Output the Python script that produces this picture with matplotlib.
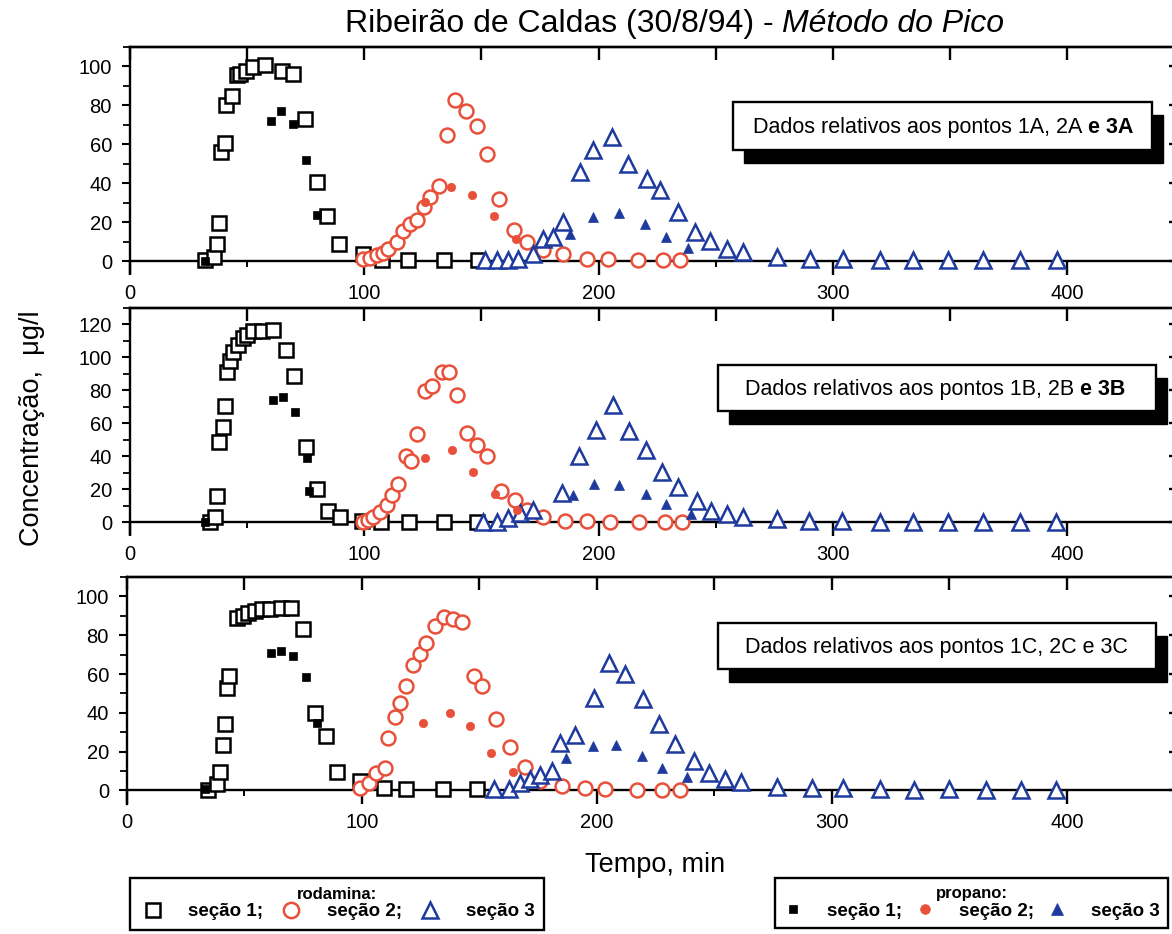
import matplotlib
matplotlib.use("Agg")
import matplotlib.pyplot as plt
from matplotlib.ticker import MultipleLocator
from matplotlib.lines import Line2D
from matplotlib.patches import Rectangle
from matplotlib.text import Annotation

plt.rcParams["font.family"] = ["Liberation Sans", "DejaVu Sans"]

# ---------------- data: time (min) and concentration (ug/l) ----------------
# points 1A, 2A, 3A
a_rod1_t = [32, 36, 37, 38, 39, 40.5, 41, 43.5, 45.5, 47, 49.5, 52.5, 57.5, 65, 69.5,
            74.5, 80, 84, 89, 99.5, 107.5, 118.5, 134, 148.5]
a_rod1_c = [0.5, 2, 9, 19.5, 56, 60.5, 80, 85, 95.5, 96, 97.5, 99.5, 101, 97.5, 96,
            73, 40.5, 23.5, 9, 3.5, 0.5, 0.5, 0.5, 0.5]
a_prop1_t = [32, 60, 64.5, 69.5, 75, 80]
a_prop1_c = [0, 72, 77, 70.5, 52, 24]
a_rod2_t = [99.6, 102.4, 105.3, 107.8, 110.3, 113.8, 116.7, 119.5, 122.4, 125.5, 128, 132,
            135.2, 138.7, 143.3, 148, 152.2, 157.6, 163.9, 169.3, 176.4, 185, 194.9, 204.2,
            217, 227.6, 234.7]
a_rod2_c = [1.4, 1.9, 3.1, 4.3, 6.5, 9.9, 15.6, 19.3, 21, 27.9, 33, 38.5, 64.6, 82.6, 77.4,
            69.4, 55.2, 32.1, 15.9, 9.9, 5.6, 3.6, 1.4, 1.4, 0.5, 0.5, 0.5]
a_prop2_t = [125.9, 136.9, 145.8, 155.4, 164.7]
a_prop2_c = [30.4, 38.1, 33.8, 23.1, 11.6]
a_rod3_t = [151.5, 156.5, 161.5, 165.7, 172.1, 176.4, 180.6, 185, 192.1, 197.7, 205.6, 212.7,
            220.5, 226.2, 234, 241.1, 247.5, 255, 261.8, 276, 290.2, 304.1, 320, 334.3,
            349.3, 364.2, 379.9, 395.5]
a_rod3_c = [0.5, 0.5, 0.5, 1.4, 3.9, 11.6, 12.5, 20.2, 45.8, 56.9, 63.7, 50.1, 42.4, 36.4,
            25.3, 15, 10.5, 6.3, 4.8, 2.2, 1.4, 1.4, 0.5, 0.5, 0.5, 0.5, 0.5, 0.5]
a_prop3_t = [187.8, 197.7, 208.8, 219.8, 228.6, 238.3]
a_prop3_c = [14.2, 22.7, 24.8, 19.3, 12.5, 7]

# points 1B, 2B, 3B
b_rod1_t = [34, 36.3, 37.3, 38.1, 39.8, 40.5, 41.5, 42.7, 43.8, 46.2, 48.4, 50.1, 52.6, 56.2,
            60.9, 66.6, 70, 75.1, 80, 84.6, 89.6, 98.9, 107, 119, 134, 148]
b_rod1_c = [0, 3.6, 15.8, 49, 58, 70.3, 91.5, 97.6, 103.6, 107.7, 111.7, 113.7, 115.8, 116.2,
            116.8, 104.6, 89, 46, 20.4, 7, 3.6, 0.6, 0.5, 0.5, 0.5, 0.5]
b_prop1_t = [32, 60.9, 65.2, 70.4, 75.7, 76.2]
b_prop1_c = [0, 74.4, 75.8, 66.9, 39, 18.8]
b_rod2_t = [99.6, 101.7, 103.8, 106.7, 109.8, 111.7, 114.3, 117.8, 119.9, 122.6, 125.9, 128.8,
            133, 136.1, 139.4, 143.7, 148, 152.2, 158.3, 164.3, 169.3, 176.4, 185.7, 194.9,
            204.9, 217.4, 228.3, 235.5]
b_rod2_c = [0, 1.6, 3.6, 6.2, 10.7, 16.8, 23.2, 40, 37.4, 53.5, 79.4, 83, 91.1, 91.5, 77.4,
            54.1, 46.7, 40, 18.8, 13.7, 7.7, 3.6, 1, 0.6, 0.3, 0.3, 0.3, 0.3]
b_prop2_t = [125.9, 137.3, 146.5, 155.8, 165.3]
b_prop2_c = [39, 44, 30.5, 17.2, 7.7]
b_rod3_t = [150.8, 156.5, 161.5, 166.4, 172.1, 184.2, 191.8, 198.9, 206, 213.1, 220.2, 226.9,
            234, 241.9, 247.8, 254.9, 261.8, 276, 290, 304, 320, 334, 349, 364, 380, 395]
b_rod3_c = [0, 0.2, 2.6, 5.6, 7.7, 17.8, 40, 56.2, 71.3, 55.2, 44, 30.5, 21.4, 13.1, 7, 5,
            3.6, 2, 1, 1, 0.5, 0.3, 0.3, 0.3, 0.3, 0.3]
b_prop3_t = [188.9, 198, 208.8, 220.2, 228.8, 239.3]
b_prop3_c = [16.8, 23.4, 22.8, 17.2, 11.1, 5]

# points 1C, 2C, 3C
c_rod1_t = [34.6, 38.5, 39.6, 40.8, 41.7, 42.5, 43.6, 46.7, 49.3, 51.7, 54.5, 57.4, 60.9,
            65.5, 69.9, 74.8, 80.1, 84.8, 89.3, 99, 109.2, 118.8, 134.6, 149]
c_rod1_c = [0, 3.1, 9.4, 23.2, 34, 52.9, 58.9, 89, 89.8, 91.6, 92.4, 93.3, 93.6, 94.2, 94.2,
            83, 40, 28, 9.4, 4.8, 1.4, 0.9, 0.5, 0.5]
c_prop1_t = [33.2, 61.2, 65.5, 70.6, 76, 80.8]
c_prop1_c = [0.5, 70.6, 71.8, 69.2, 58.6, 34.5]
c_rod2_t = [99.3, 102.8, 106.1, 109.9, 111.1, 114.2, 116.3, 118.8, 121.9, 124.5, 127.3, 131.2,
            134.7, 138.7, 142.6, 147.5, 151.1, 157.2, 163.2, 169.5, 175.9, 185.2, 195.1,
            203.6, 217.1, 227.8, 235.3]
c_rod2_c = [1.4, 4, 9.1, 11.7, 27.2, 38, 45.2, 53.8, 64.4, 70.1, 75.8, 84.7, 89.5, 88.1, 86.8,
            58.9, 53.8, 37, 22.5, 12.2, 4.8, 2.2, 1.4, 0.5, 0.3, 0.3, 0.3]
c_prop2_t = [125.9, 137.3, 145.8, 154.9, 164.3]
c_prop2_c = [34.5, 39.7, 33.1, 19.4, 9.4]
c_rod3_t = [156, 162.4, 167.4, 171.7, 175.9, 180.9, 184.2, 190.8, 198.6, 205, 212.1, 219.7,
            226.3, 233.4, 241.2, 247.6, 254.7, 261.1, 276.5, 291.4, 304.6, 320.4, 334.8,
            349.7, 365.5, 380.4, 395.3]
c_rod3_c = [0.5, 0.5, 4, 6, 8.2, 9.9, 24.6, 28.4, 47.8, 65.5, 59.8, 46.9, 34, 23.7, 15.1, 9.1,
            6, 4.3, 2, 1, 1, 0.5, 0.3, 0.5, 0.3, 0.3, 0.3]
c_prop3_t = [187, 198.4, 207.9, 219.3, 227.8, 238.5]
c_prop3_c = [16.9, 22.8, 23.2, 17.7, 11.7, 7.1]

notes = [("Dados relativos aos pontos 1A, 2A", " e 3A"),
         ("Dados relativos aos pontos 1B, 2B", " e 3B"),
         ("Dados relativos aos pontos 1C, 2C e 3C", "")]
legend_labels = ["seção 1;", "seção 2;", "seção 3"]

# ---------------- styles ----------------
RED = "#e8503a"
BLUE = "#1e3a9e"
W, H = 1172, 934

fig = plt.figure(figsize=(W / 100, H / 100), dpi=100)
fig.patch.set_facecolor("white")


def axes_px(left, top, right, bottom):
    return fig.add_axes([left / W, 1 - bottom / H, (right - left) / W, (bottom - top) / H])


panels = [
    dict(box=(130, 47, 1175, 273), ylim=(-6, 110),
         series=(a_rod1_t, a_rod1_c, a_rod2_t, a_rod2_c, a_rod3_t, a_rod3_c,
                 a_prop1_t, a_prop1_c, a_prop2_t, a_prop2_c, a_prop3_t, a_prop3_c),
         note=notes[0], nbox=(733, 102, 1152, 150), ntx=753),
    dict(box=(130, 308, 1175, 534), ylim=(-7, 130),
         series=(b_rod1_t, b_rod1_c, b_rod2_t, b_rod2_c, b_rod3_t, b_rod3_c,
                 b_prop1_t, b_prop1_c, b_prop2_t, b_prop2_c, b_prop3_t, b_prop3_c),
         note=notes[1], nbox=(718, 365, 1156, 411), ntx=745),
    dict(box=(127, 577, 1175, 804), ylim=(-7, 110),
         series=(c_rod1_t, c_rod1_c, c_rod2_t, c_rod2_c, c_rod3_t, c_rod3_c,
                 c_prop1_t, c_prop1_c, c_prop2_t, c_prop2_c, c_prop3_t, c_prop3_c),
         note=notes[2], nbox=(718, 623, 1156, 669), ntx=745),
]

open_sq = dict(marker="s", ls="none", ms=10, mfc="white", mec="black", mew=1.8)
open_ci = dict(marker="o", ls="none", ms=10, mfc="white", mec=RED, mew=1.8)
open_tr = dict(marker="^", ls="none", ms=11, mfc="white", mec=BLUE, mew=1.8)
fill_sq = dict(marker="s", ls="none", ms=6, mfc="black", mec="black", mew=0.5)
fill_ci = dict(marker="o", ls="none", ms=6, mfc=RED, mec=RED, mew=0.5)
fill_tr = dict(marker="^", ls="none", ms=7, mfc=BLUE, mec=BLUE, mew=0.5)

for p in panels:
    ax = axes_px(*p["box"])
    ax.set_facecolor("none")
    r1t, r1c, r2t, r2c, r3t, r3c, p1t, p1c, p2t, p2c, p3t, p3c = p["series"]
    ax.plot(r1t, r1c, zorder=3, clip_on=False, **open_sq)
    ax.plot(r2t, r2c, zorder=3.1, clip_on=False, **open_ci)
    ax.plot(r3t, r3c, zorder=3.2, clip_on=False, **open_tr)
    ax.plot(p1t, p1c, zorder=4, clip_on=False, **fill_sq)
    ax.plot(p2t, p2c, zorder=4, clip_on=False, **fill_ci)
    ax.plot(p3t, p3c, zorder=4, clip_on=False, **fill_tr)

    ax.set_xlim(0, 446)
    ax.set_ylim(*p["ylim"])
    for s in ax.spines.values():
        s.set_linewidth(1.7)
    ax.spines["bottom"].set_position(("data", 0))

    ax.xaxis.set_major_locator(MultipleLocator(100))
    ax.xaxis.set_minor_locator(MultipleLocator(50))
    ax.yaxis.set_major_locator(MultipleLocator(20))
    ax.yaxis.set_minor_locator(MultipleLocator(10))
    ax.tick_params(axis="x", which="major", direction="out", length=10, width=1.7,
                   labelsize=14.5, pad=6, top=False)
    ax.tick_params(axis="x", which="minor", direction="out", length=4, width=1.4, top=False)
    ax.tick_params(axis="y", which="major", direction="out", length=6, width=1.5,
                   labelsize=14.5, pad=7, right=False)
    ax.tick_params(axis="y", which="minor", direction="out", length=5, width=1.3, right=False)

    top = ax.secondary_xaxis("top")
    top.xaxis.set_major_locator(MultipleLocator(50))
    top.tick_params(direction="in", length=9, width=1.7, labeltop=False)
    top.spines["top"].set_linewidth(1.7)
    right = ax.secondary_yaxis("right")
    right.yaxis.set_major_locator(MultipleLocator(20))
    right.tick_params(direction="in", length=4, width=1.7, labelright=False)

    # note box with a solid drop shadow
    x0, y0, x1, y1 = p["nbox"]
    fig.add_artist(Rectangle(((x0 + 11) / W, 1 - (y1 + 13) / H), (x1 - x0) / W, (y1 - y0) / H,
                             transform=fig.transFigure, facecolor="black",
                             edgecolor="black", zorder=5))
    fig.add_artist(Rectangle((x0 / W, 1 - y1 / H), (x1 - x0) / W, (y1 - y0) / H,
                             transform=fig.transFigure, facecolor="white",
                             edgecolor="black", lw=1.7, zorder=6))
    plain, bold = p["note"]
    t = fig.text(p["ntx"] / W, 1 - (y0 + y1 + 3) / 2 / H, plain, ha="left", va="center",
                 fontsize=15.5, zorder=7)
    if bold:
        fig.add_artist(Annotation(bold, xy=(1, 0), xycoords=t, ha="left", va="bottom",
                                  fontsize=15.5, fontweight="bold", zorder=7))

# title with italic method name
t1 = fig.text(345 / W, 1 - 32 / H, "Ribeirão de Caldas (30/8/94) - ", ha="left",
              va="baseline", fontsize=23)
fig.add_artist(Annotation("Método do Pico", xy=(1, 0), xycoords=t1, ha="left",
                          va="bottom", fontsize=23, style="italic"))

fig.text(32 / W, 1 - 428 / H, "Concentração,  μg/l", rotation=90, ha="center",
         va="center", fontsize=19.5)
fig.text(655 / W, 1 - 865 / H, "Tempo, min", ha="center", va="center", fontsize=19.5)

# legends
rod_handles = [Line2D([], [], **dict(open_sq, ms=10)), Line2D([], [], **dict(open_ci, ms=11)),
               Line2D([], [], **dict(open_tr, ms=12))]
prop_handles = [Line2D([], [], **fill_sq), Line2D([], [], **dict(fill_ci, ms=7)),
                Line2D([], [], **dict(fill_tr, ms=8))]
legend_specs = [
    (rod_handles, "rodamina:", (130, 878), dict(borderpad=0.5, handlelength=1.4,
                                                handletextpad=1.2, columnspacing=0.8)),
    (prop_handles, "propano:", (775, 878), dict(borderpad=0.45, handlelength=1.0,
                                                handletextpad=1.3, columnspacing=0.75)),
]
for handles, title, anchor, spacing in legend_specs:
    leg = fig.legend(handles, legend_labels, ncol=3, title=title,
                     title_fontproperties={"weight": "bold", "size": 12},
                     prop={"weight": "bold", "size": 13.5}, loc="upper left",
                     bbox_to_anchor=(anchor[0] / W, 1 - anchor[1] / H),
                     frameon=True, fancybox=False, edgecolor="black", framealpha=1,
                     labelspacing=0.05, borderaxespad=0, **spacing)
    leg.get_frame().set_linewidth(1.7)

fig.savefig("out.png", dpi=100)
